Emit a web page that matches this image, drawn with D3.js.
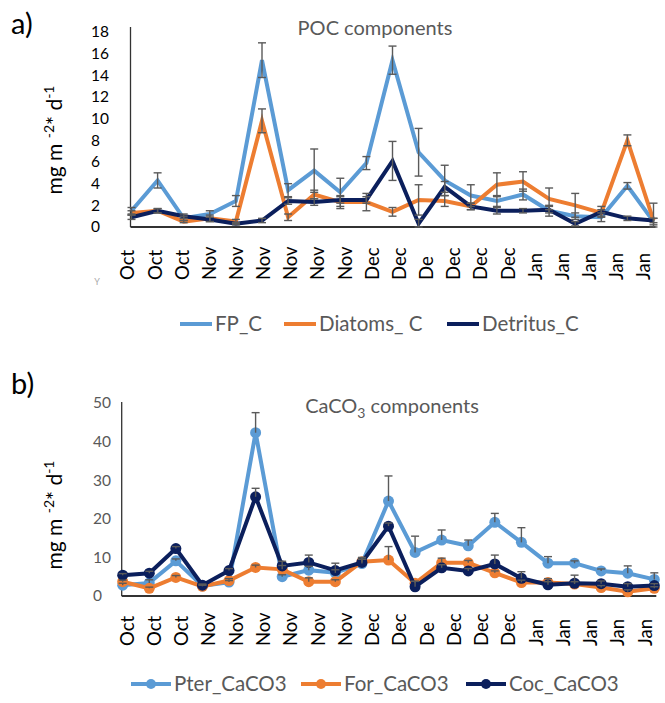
<!DOCTYPE html>
<html>
<head>
<meta charset="utf-8">
<script src="https://cdn.jsdelivr.net/npm/d3@7"></script>
<style>
  html, body { margin: 0; padding: 0; background: #fff; }
  svg { display: block; font-family: Lato, "Liberation Sans", sans-serif; }
</style>
</head>
<body>
<svg id="chart" width="665" height="703"></svg>
<script>
// Category labels along the x axis (same for both panels)
const monthLabels = ["Oct","Oct","Oct","Nov","Nov","Nov","Nov","Nov","Nov","Dec","Dec","De","Dec","Dec","Dec","Jan","Jan","Jan","Jan","Jan"];

// Panel a) POC components, mg m-2 d-1 (21 sampling intervals)
const fpC       = [1.5, 4.3, 0.8, 1.2, 2.4, 15.4, 3.4, 5.2, 3.2, 5.9, 15.4, 6.9, 4.3, 2.9, 2.4, 3.0, 1.5, 1.0, 0.9, 3.8, 0.5];
const diatomsC  = [1.3, 1.5, 0.5, 0.8, 0.5, 9.8, 0.9, 3.0, 2.3, 2.3, 1.4, 2.5, 2.4, 1.9, 3.9, 4.2, 2.6, 2.0, 1.3, 8.0, 0.6];
const detritusC = [0.9, 1.5, 1.0, 0.7, 0.3, 0.6, 2.4, 2.3, 2.5, 2.5, 6.1, 0.3, 3.7, 1.9, 1.5, 1.5, 1.6, 0.3, 1.4, 0.8, 0.6];
const fpErr       = [0.3, 0.7, 0.2, 0.3, 0.5, 1.6, 0.6, 2.0, 1.3, 0.6, 1.3, 2.2, 1.4, 1.0, 0.5, 0.5, 0.5, 0.3, 0.4, 0.3, 0.3];
const diatomsErr  = [0.2, 0.2, 0.1, 0.3, 0.2, 1.1, 0.3, 0.4, 0.6, 0.8, 0.4, 1.4, 0.5, 0.3, 1.1, 0.9, 1.0, 1.1, 0.3, 0.5, 1.6];
const detritusErr = [0.2, 0.2, 0.2, 0.2, 0.1, 0.2, 0.3, 0.3, 0.3, 0.3, 1.8, 0.4, 0.5, 0.3, 0.3, 0.2, 0.3, 0.2, 0.5, 0.2, 0.2];
const pocTicks = [0, 2, 4, 6, 8, 10, 12, 14, 16, 18];

// Panel b) CaCO3 components, mg m-2 d-1
const pterCaCO3 = [2.8, 3.4, 9.1, 2.6, 3.6, 42.3, 5.0, 6.7, 6.0, 8.4, 24.6, 11.3, 14.5, 13.0, 19.1, 13.9, 8.5, 8.5, 6.5, 5.9, 4.3];
const forCaCO3  = [3.7, 2.0, 4.8, 2.5, 4.0, 7.4, 6.9, 3.7, 3.7, 8.9, 9.3, 3.3, 8.6, 8.6, 6.0, 3.5, 3.5, 3.1, 2.2, 1.1, 2.0];
const cocCaCO3  = [5.4, 5.9, 12.3, 2.8, 6.6, 25.7, 7.8, 8.7, 6.6, 8.7, 18.1, 2.4, 7.3, 6.5, 8.3, 4.6, 2.9, 3.3, 3.2, 2.4, 2.7];
const pterErr = [0.5, 0.8, 0.5, 0.3, 0.4, 5.2, 0.5, 1.0, 0.8, 1.5, 6.5, 4.2, 2.6, 1.5, 2.3, 3.8, 1.7, 0.6, 0.5, 1.9, 1.7];
const forErr  = [0.4, 0.3, 0.5, 0.3, 0.5, 0.6, 1.0, 1.0, 0.5, 0.6, 3.5, 0.5, 1.2, 0.6, 0.5, 0.6, 1.0, 0.6, 0.5, 0.5, 0.4];
const cocErr  = [0.4, 0.5, 0.5, 0.3, 0.5, 2.2, 1.2, 1.9, 1.9, 1.3, 0.8, 1.4, 0.8, 0.6, 2.3, 1.7, 0.8, 2.1, 0.7, 0.8, 0.5];
const caco3Ticks = [0, 10, 20, 30, 40, 50];

const BLUE = "#5b9bd5", ORANGE = "#ed7d31", NAVY = "#0b1f5c";
const GREY = "#595959";

const svg = d3.select("#chart");

function panel(cfg) {
  const g = svg.append("g");
  const n = cfg.series[0].values.length;
  const x = d3.scalePoint().domain(d3.range(n)).range(cfg.xRange);
  const xl = d3.scalePoint().domain(d3.range(monthLabels.length)).range(cfg.labelRange);
  const y = d3.scaleLinear().domain(cfg.yDomain).range(cfg.yRange);

  // panel letter
  g.append("text").attr("x", 11).attr("y", cfg.letterY)
    .attr("font-size", 29).attr("fill", "#000").text(cfg.letter);

  // title
  const t = g.append("text").attr("x", cfg.titleX).attr("y", cfg.titleY)
    .attr("text-anchor", "middle").attr("font-size", 20).attr("fill", GREY);
  cfg.title.forEach(p => {
    const s = t.append("tspan").text(p.t);
    if (p.sub) s.attr("font-size", 14).attr("dy", 5);
    if (p.after) s.attr("dy", -5);
  });

  // y axis tick labels
  const yAxis = d3.axisLeft(y).tickValues(cfg.ticks).tickSize(0).tickPadding(0);
  const ya = g.append("g").attr("transform", `translate(${cfg.tickX},0)`).call(yAxis);
  ya.select(".domain").remove();
  ya.selectAll("text").attr("text-anchor", "start").attr("x", 0)
    .attr("font-family", "Lato, sans-serif").attr("font-size", 15.5).attr("fill", cfg.tickColor);

  // y axis title
  const yt = g.append("text")
    .attr("transform", `translate(${cfg.yTitleX},${cfg.yTitleY}) rotate(-90)`)
    .attr("text-anchor", "middle").attr("font-size", 21).attr("fill", "#000");
  yt.append("tspan").text("mg  m ");
  yt.append("tspan").attr("font-size", 14).attr("dy", -8).text("-2");
  yt.append("tspan").attr("dy", 8).text("* d");
  yt.append("tspan").attr("font-size", 14).attr("dy", -8).text("-1");

  // axis lines
  g.append("line").attr("x1", cfg.xRange[0] - 1).attr("x2", cfg.xRange[0] - 1)
    .attr("y1", cfg.axisTop).attr("y2", y(0)).attr("stroke", "#333").attr("stroke-width", 1.3);
  g.append("line").attr("x1", cfg.xRange[0] - 1).attr("x2", cfg.xRange[1] + 2)
    .attr("y1", y(0)).attr("y2", y(0)).attr("stroke", "#333").attr("stroke-width", 1.8);

  // x category labels
  g.append("g").selectAll("text").data(monthLabels).join("text")
    .attr("transform", (d, i) => `translate(${xl(i)},${cfg.labelBase}) rotate(-90)`)
    .attr("dy", "0.36em").attr("text-anchor", "start")
    .attr("font-size", 18.5).attr("fill", "#000").text(d => d);

  // series lines
  const line = d3.line().x((d, i) => x(i)).y(d => y(d));
  cfg.series.forEach(s => {
    g.append("path").datum(s.values).attr("d", line)
      .attr("fill", "none").attr("stroke", s.color).attr("stroke-width", 4)
      .attr("stroke-linejoin", "miter");
    if (cfg.markers) {
      g.append("g").selectAll("circle").data(s.values).join("circle")
        .attr("cx", (d, i) => x(i)).attr("cy", d => y(d)).attr("r", 5.5).attr("fill", s.color);
    }
  });

  // error bars
  cfg.series.forEach(s => {
    const eb = g.append("g").attr("stroke", "#5a5a5a").attr("stroke-width", 1.4);
    s.values.forEach((v, i) => {
      const e = s.err[i];
      const lo = cfg.bothWays ? Math.max(0, v - e) : v;
      const hi = v + e;
      eb.append("line").attr("x1", x(i)).attr("x2", x(i)).attr("y1", y(lo)).attr("y2", y(hi));
      eb.append("line").attr("x1", x(i) - 4).attr("x2", x(i) + 4).attr("y1", y(hi)).attr("y2", y(hi));
      if (cfg.bothWays) eb.append("line").attr("x1", x(i) - 4).attr("x2", x(i) + 4).attr("y1", y(lo)).attr("y2", y(lo));
    });
  });

  // legend
  const lg = g.append("g");
  cfg.series.forEach((s, k) => {
    const lx = cfg.legendX[k];
    lg.append("line").attr("x1", lx).attr("x2", lx + cfg.legendLine)
      .attr("y1", cfg.legendY).attr("y2", cfg.legendY)
      .attr("stroke", s.color).attr("stroke-width", 4);
    if (cfg.markers) lg.append("circle").attr("cx", lx + cfg.legendLine / 2).attr("cy", cfg.legendY)
      .attr("r", 5).attr("fill", s.color);
    lg.append("text").attr("x", lx + cfg.legendLine + 3).attr("y", cfg.legendY)
      .attr("dy", "0.35em").attr("font-size", 20.5).attr("fill", GREY).text(s.name);
  });
}

panel({
  letter: "a)", letterY: 34,
  title: [{t: "POC components"}], titleX: 375, titleY: 35,
  xRange: [131.5, 653.5], labelRange: [127.7, 643.6], labelBase: 280,
  yDomain: [0, 18], yRange: [227, 32], ticks: pocTicks, tickX: 91, tickColor: "#000",
  axisTop: 27, yTitleX: 62, yTitleY: 140,
  bothWays: true, markers: false,
  series: [
    {name: "FP_C", values: fpC, err: fpErr, color: BLUE},
    {name: "Diatoms_ C", values: diatomsC, err: diatomsErr, color: ORANGE},
    {name: "Detritus_C", values: detritusC, err: detritusErr, color: NAVY}
  ],
  legendX: [180, 284, 447], legendLine: 32, legendY: 324
});

panel({
  letter: "b)", letterY: 394,
  title: [{t: "CaCO"}, {t: "3", sub: true}, {t: " components", after: true}], titleX: 392, titleY: 413,
  xRange: [122.7, 654.3], labelRange: [127, 645], labelBase: 646,
  yDomain: [0, 50], yRange: [596, 403], ticks: caco3Ticks, tickX: 93, tickColor: GREY,
  axisTop: 402, yTitleX: 62, yTitleY: 515,
  bothWays: false, markers: true,
  series: [
    {name: "Pter_CaCO3", values: pterCaCO3, err: pterErr, color: BLUE},
    {name: "For_CaCO3", values: forCaCO3, err: forErr, color: ORANGE},
    {name: "Coc_CaCO3", values: cocCaCO3, err: cocErr, color: NAVY}
  ],
  legendX: [131, 301, 466], legendLine: 40, legendY: 684
});

// small stray axis mark under panel a)
svg.append("text").attr("x", 97).attr("y", 285).attr("text-anchor", "middle")
  .attr("font-size", 9).attr("fill", "#aaa").text("Y");
</script>
</body>
</html>
